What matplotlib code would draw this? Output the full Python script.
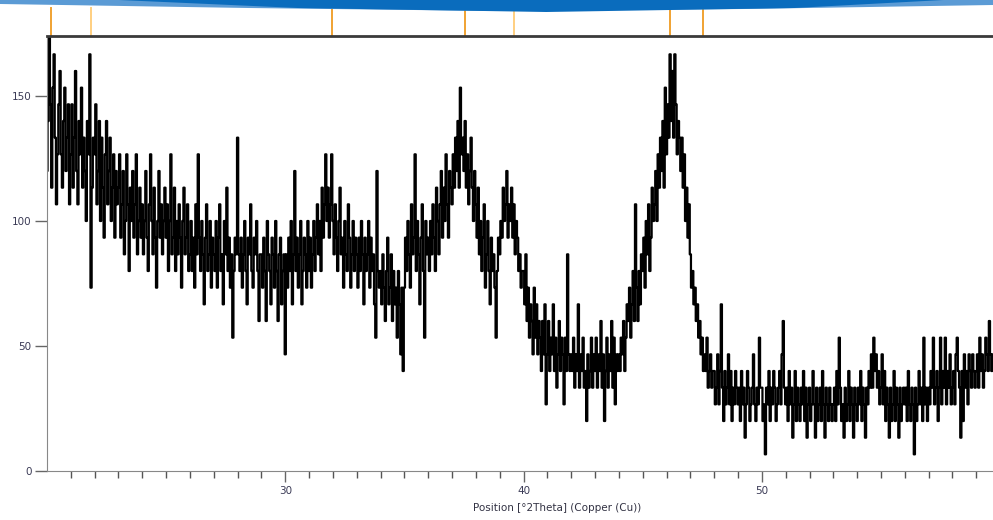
import numpy as np
import matplotlib
matplotlib.use("Agg")
import matplotlib.pyplot as plt
from matplotlib.patches import Polygon
import matplotlib.transforms as mtransforms

# scan settings
start_deg = 20.0
step_deg = 0.05
count_time = 0.15  # s per step, intensity = counts / time

# raw counts per step (20 steps = 1 degree)
counts_20_25 = [18, 21, 26, 22, 17, 23, 25, 20, 16, 19, 22, 24, 19, 17, 21, 23, 18, 20, 22, 16,
                19, 22, 17, 20, 24, 18, 16, 21, 19, 23, 17, 20, 18, 15, 21, 19, 25, 11, 17, 20,
                19, 22, 16, 18, 21, 15, 20, 17, 14, 19, 21, 16, 18, 20, 15, 17, 19, 14, 18, 16,
                17, 19, 14, 16, 18, 13, 15, 19, 16, 12, 17, 15, 18, 14, 16, 19, 13, 15, 17, 14,
                16, 13, 15, 18, 14, 12, 16, 19, 15, 13, 17, 14, 11, 15, 18, 14, 16, 13, 15, 17]
counts_25_30 = [14, 16, 12, 15, 19, 13, 14, 17, 12, 15, 13, 16, 14, 11, 15, 17, 13, 14, 16, 12,
                13, 15, 12, 14, 11, 16, 13, 19, 14, 12, 15, 13, 10, 14, 16, 12, 13, 15, 11, 14,
                13, 12, 15, 11, 14, 16, 12, 13, 10, 15, 13, 17, 12, 14, 11, 13, 8, 12, 14, 13,
                20, 13, 12, 14, 11, 13, 15, 12, 10, 14, 13, 16, 12, 11, 14, 13, 15, 12, 9, 13,
                13, 11, 14, 12, 9, 15, 13, 12, 10, 14, 13, 11, 15, 12, 9, 13, 14, 10, 12, 13]
counts_30_35 = [7, 13, 11, 14, 12, 15, 10, 13, 18, 12, 14, 11, 13, 15, 10, 12, 14, 13, 11, 15,
                12, 14, 11, 13, 15, 12, 14, 16, 13, 15, 12, 17, 14, 16, 19, 15, 17, 14, 16, 19,
                15, 13, 16, 14, 12, 15, 17, 13, 14, 11, 15, 13, 12, 16, 14, 11, 13, 15, 12, 14,
                13, 11, 14, 12, 15, 13, 10, 14, 12, 13, 15, 11, 14, 12, 13, 10, 8, 18, 12, 11,
                12, 10, 13, 11, 9, 12, 14, 10, 11, 13, 9, 12, 10, 11, 8, 12, 10, 7, 11, 6]
counts_35_40 = [11, 14, 12, 15, 13, 11, 16, 13, 14, 19, 12, 15, 13, 10, 14, 16, 12, 8, 15, 13,
                14, 12, 15, 13, 16, 14, 12, 17, 15, 13, 16, 18, 14, 17, 15, 19, 16, 14, 18, 17,
                16, 19, 17, 20, 18, 21, 17, 23, 19, 20, 18, 21, 17, 19, 16, 18, 20, 17, 15, 18,
                16, 14, 17, 13, 15, 12, 14, 16, 11, 13, 15, 12, 10, 14, 12, 13, 11, 8, 12, 14,
                13, 15, 14, 17, 15, 16, 18, 14, 16, 15, 17, 14, 16, 13, 15, 14, 12, 13, 11, 12]
counts_40_45 = [12, 10, 13, 9, 11, 8, 10, 9, 7, 11, 8, 10, 7, 9, 8, 6, 9, 7, 10, 4,
                7, 9, 6, 8, 7, 10, 6, 8, 5, 7, 9, 6, 8, 7, 4, 8, 6, 13, 7, 6,
                7, 6, 8, 5, 7, 6, 10, 5, 7, 6, 8, 5, 6, 3, 7, 5, 6, 8, 5, 7,
                6, 8, 5, 7, 6, 9, 5, 7, 3, 6, 8, 5, 7, 6, 9, 5, 8, 4, 7, 6,
                7, 6, 8, 7, 9, 6, 8, 10, 9, 11, 8, 10, 12, 9, 16, 11, 9, 12, 10, 13]
counts_45_50 = [12, 14, 11, 15, 13, 16, 12, 14, 17, 15, 16, 18, 15, 19, 17, 20, 18, 21, 17, 23,
                19, 22, 20, 25, 21, 24, 20, 25, 22, 19, 21, 20, 18, 20, 17, 19, 15, 17, 14, 16,
                13, 11, 12, 10, 11, 9, 10, 8, 9, 7, 8, 6, 7, 6, 8, 5, 6, 7, 5, 6,
                6, 4, 5, 7, 4, 6, 10, 5, 3, 6, 4, 5, 7, 4, 6, 3, 5, 4, 6, 5,
                4, 5, 3, 6, 4, 5, 2, 4, 6, 5, 3, 4, 5, 7, 4, 3, 5, 4, 8, 5]
counts_50_55 = [5, 3, 4, 1, 5, 4, 6, 3, 5, 4, 6, 5, 3, 4, 5, 6, 4, 7, 9, 5,
                4, 5, 3, 6, 4, 5, 2, 4, 6, 3, 5, 4, 3, 5, 4, 6, 3, 5, 2, 4,
                5, 3, 4, 6, 4, 2, 5, 3, 4, 5, 3, 6, 4, 2, 5, 4, 3, 5, 4, 3,
                4, 5, 3, 6, 4, 8, 5, 3, 4, 2, 5, 3, 4, 6, 3, 5, 4, 2, 5, 4,
                3, 5, 4, 6, 3, 5, 4, 2, 5, 4, 6, 5, 7, 5, 8, 6, 7, 5, 6, 4]
counts_55_60 = [5, 7, 4, 6, 3, 5, 4, 2, 5, 3, 4, 6, 3, 5, 4, 2, 5, 3, 4, 5,
                4, 5, 3, 6, 4, 3, 5, 4, 1, 5, 3, 4, 6, 4, 5, 3, 8, 4, 5, 3,
                5, 4, 6, 5, 8, 4, 5, 6, 3, 5, 8, 4, 6, 5, 8, 4, 6, 5, 7, 4,
                5, 6, 4, 7, 8, 6, 5, 2, 6, 3, 7, 5, 6, 4, 7, 6, 5, 7, 6, 5,
                6, 7, 5, 8, 6, 7, 5, 6, 8, 7, 6, 9, 7, 6, 7]

# reference pattern lines shown above the plot
ref_lines = [20.15, 21.85, 31.95, 37.55, 39.6, 46.15, 47.55]
ref_colors = ["#f0a232", "#ffcf80", "#f0a232", "#f0a232", "#ffcf80", "#f0a232", "#f0a232"]

counts = np.array(counts_20_25 + counts_25_30 + counts_30_35 + counts_35_40 +
                  counts_40_45 + counts_45_50 + counts_50_55 + counts_55_60, dtype=float)
pos = start_deg + step_deg * np.arange(len(counts))
cps = counts / count_time

fig = plt.figure(figsize=(9.93, 5.2), dpi=100)

# blue swoosh banner on top of the slide
fig.patches.append(Polygon([(0, 1), (1, 1), (1, 1 - 5 / 520), (0.75, 1 - 9 / 520),
                            (0.5, 1 - 11 / 520), (0.25, 1 - 8 / 520), (0, 1 - 4 / 520)],
                           closed=True, transform=fig.transFigure, facecolor="#5b9bd5",
                           edgecolor="none"))
fig.patches.append(Polygon([(0.12, 1), (0.95, 1), (0.8, 1 - 8 / 520),
                            (0.55, 1 - 12 / 520), (0.3, 1 - 8 / 520)],
                           closed=True, transform=fig.transFigure, facecolor="#0a6cbd",
                           edgecolor="none"))

ax = fig.add_axes([0.0473, 0.0942, 0.9527, 0.8366])
ax.plot(pos, cps, drawstyle="steps-mid", color="black", lw=1.6)
ax.set_xlim(20, 59.7)
ax.set_ylim(0, 174)

trans = mtransforms.blended_transform_factory(ax.transData, ax.transAxes)
for x, c in zip(ref_lines, ref_colors):
    ax.plot([x, x], [1.0, 1.065], color=c, lw=1.4, transform=trans, clip_on=False)

ax.set_xticks([30, 40, 50])
ax.set_xticks(np.arange(21, 60), minor=True)
ax.set_yticks([0, 50, 100, 150])
ax.tick_params(axis="x", which="major", length=8, width=1, color="#666666",
               labelsize=7.5, labelcolor="#3a3a55", pad=3)
ax.tick_params(axis="x", which="minor", length=5, width=1, color="#555555")
ax.tick_params(axis="y", which="major", length=9, width=1, color="#666666",
               labelsize=7.5, labelcolor="#3a3a55", pad=2)

ax.spines["right"].set_visible(False)
ax.spines["top"].set_color("#3a3a3a")
ax.spines["top"].set_linewidth(2)
ax.spines["left"].set_color("#888888")
ax.spines["bottom"].set_color("#888888")

fig.text(0.561, 0.013, "Position [°2Theta] (Copper (Cu))", ha="center", va="bottom",
         fontsize=7.5, color="#333344")

fig.savefig("out.png", dpi=100)
